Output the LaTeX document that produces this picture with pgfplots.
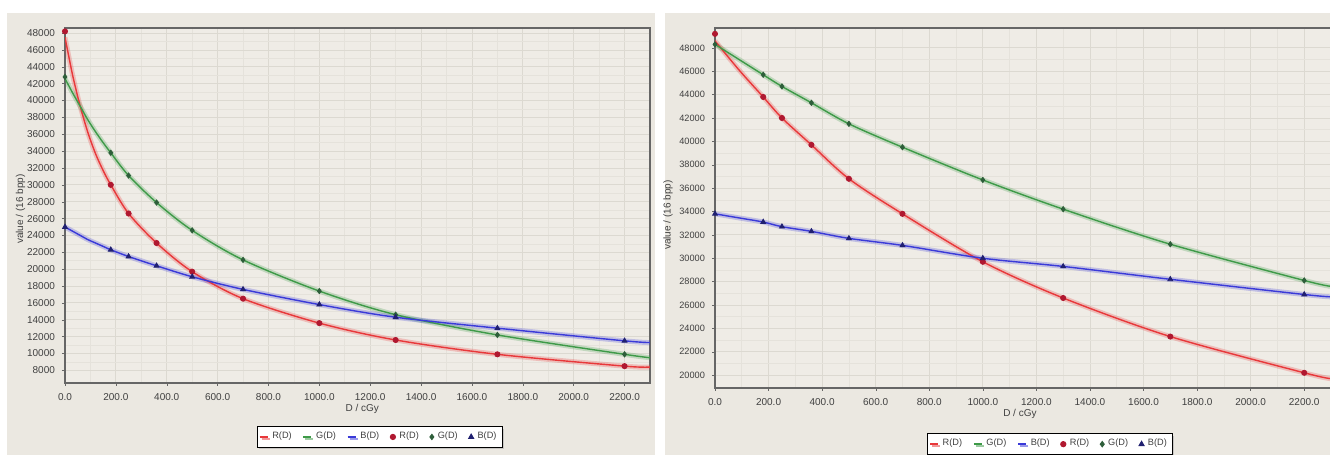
\documentclass[border=0pt]{standalone}
\usepackage{pgfplots}
\pgfplotsset{compat=1.18}
\usepackage{pgfplotstable}
\usepackage{fontspec}
\setmainfont{Liberation Sans}
\usetikzlibrary{shadows}

\definecolor{bgpanel}{HTML}{EBE8E1}
\definecolor{bgplot}{HTML}{EFECE6}
\definecolor{gridmaj}{HTML}{DCD9D1}
\definecolor{gridmin}{HTML}{E5E2DB}
\definecolor{cR}{HTML}{E8383A}
\definecolor{cG}{HTML}{3E9A48}
\definecolor{cB}{HTML}{3A3AD8}
\definecolor{mR}{HTML}{B01830}
\definecolor{mG}{HTML}{2E5E3A}
\definecolor{mB}{HTML}{202070}
\definecolor{txt}{HTML}{404040}

% measured points
\pgfplotstableread{
x    R     G     B
0    48200 42800 25000
180  30000 33800 22300
250  26600 31100 21500
360  23100 27900 20400
500  19700 24600 19100
700  16500 21100 17600
1000 13600 17400 15800
1300 11600 14600 14300
1700 9900  12200 13000
2200 8500  9900  11500
}\leftpts
% fitted curves
\pgfplotstableread{
x    R     G     B
0    47500 42600 25000
30   43000 40900 24500
60   39300 39300 24000
90   36200 37700 23500
120  33700 36300 23100
150  31700 35000 22700
180  30000 33800 22300
250  26600 31100 21500
360  23100 27900 20400
500  19700 24600 19100
700  16500 21100 17600
1000 13600 17400 15800
1300 11600 14600 14300
1700 9900  12200 13000
2200 8500  9900  11500
2300 8400  9500  11300
}\leftfit
\pgfplotstableread{
x    R     G     B
0    49200 48300 33800
180  43800 45700 33100
250  42000 44700 32700
360  39700 43300 32300
500  36800 41500 31700
700  33800 39500 31100
1000 29700 36700 30000
1300 26600 34200 29300
1700 23300 31200 28200
2200 20200 28100 26900
}\rightpts
\pgfplotstableread{
x    R     G     B
0    48600 48300 33800
90   46100 47000 33450
180  43800 45700 33100
250  42000 44700 32700
360  39700 43300 32300
500  36800 41500 31700
700  33800 39500 31100
1000 29700 36700 30000
1300 26600 34200 29300
1700 23300 31200 28200
2200 20200 28100 26900
2300 19700 27600 26700
}\rightfit

\pgfplotsset{
  panel/.style={
    scale only axis,
    axis background/.style={fill=bgplot},
    xmin=0, xmax=2300,
    xtick={0,200,...,2200},
    minor x tick num=1, minor y tick num=1,
    grid=both,
    major grid style={gridmaj, line width=0.4pt},
    minor grid style={gridmin, line width=0.3pt},
    axis line style={draw=gray!80!black, line width=0.6pt},
    tick align=outside, major tick length=1.5pt, minor tick length=0pt,
    tick style={draw=gray!80!black},
    /pgf/number format/assume math mode=true,
    tick label style={font=\fontsize{5}{6}\selectfont, text=txt},
    label style={font=\fontsize{5}{6}\selectfont, text=txt},
    xticklabel style={/pgf/number format/fixed, /pgf/number format/fixed zerofill,
      /pgf/number format/precision=1, /pgf/number format/1000 sep={}},
    yticklabel style={/pgf/number format/fixed, /pgf/number format/precision=0,
      /pgf/number format/1000 sep={}},
    scaled ticks=false,
    xtick pos=bottom, ytick pos=left,
    xlabel={D / cGy}, ylabel={value / (16 bpp)},
    legend columns=6,
    legend style={font=\fontsize{4.6}{5.5}\selectfont, text=txt, draw=black, fill=white,
      inner sep=0.8pt, anchor=center, line width=0.5pt,
      drop shadow={shadow xshift=1pt, shadow yshift=-1pt, fill=gray!70},
      /tikz/every even column/.append style={column sep=3.5pt}},
    legend image code/.code={\draw[mark repeat=2,mark phase=2,##1] plot coordinates {(0cm,0cm)(0.07cm,0cm)(0.14cm,0cm)};},
  },
  halo/.style={line width=2.5pt, opacity=0.25, smooth, forget plot},
}

\begin{document}
\begin{tikzpicture}
\useasboundingbox (0,0) rectangle (665pt,227.5pt);
\fill[white] (0,0) rectangle (665pt,227.5pt);
\fill[bgpanel] (3.5pt,0) rectangle (327.5pt,221pt);
\fill[bgpanel] (332.5pt,0) rectangle (665pt,221pt);

\begin{axis}[panel,
  at={(32.5pt,36pt)}, width=292.5pt, height=177.5pt,
  ymin=6500, ymax=48600, ytick={8000,10000,...,48000},
  xlabel style={at={(axis description cs:0.508,-0.040)}, anchor=north},
  ylabel style={at={(axis description cs:-0.056,0.49)}, anchor=south},
  legend style={at={(0.538,-0.152)}},
]
\addplot[cR, halo] table[x=x, y=R] {\leftfit};
\addplot[cG, halo] table[x=x, y=G] {\leftfit};
\addplot[cB, halo] table[x=x, y=B] {\leftfit};
\addplot[cR, line width=0.7pt, smooth] table[x=x, y=R] {\leftfit};
\addlegendentry{R(D)}
\addplot[cG, line width=0.7pt, smooth] table[x=x, y=G] {\leftfit};
\addlegendentry{G(D)}
\addplot[cB, line width=0.7pt, smooth] table[x=x, y=B] {\leftfit};
\addlegendentry{B(D)}
\addplot[only marks, mark=*, mark size=1.3pt, mR] table[x=x, y=R] {\leftpts};
\addlegendentry{R(D)}
\addplot[only marks, mark=diamond*, mark size=1.3pt, mG] table[x=x, y=G] {\leftpts};
\addlegendentry{G(D)}
\addplot[only marks, mark=triangle*, mark size=1.4pt, mB] table[x=x, y=B] {\leftpts};
\addlegendentry{B(D)}
\end{axis}

\begin{axis}[panel,
  at={(357.5pt,33.5pt)}, width=308pt, height=180pt,
  ymin=18900, ymax=49700, ytick={20000,22000,...,48000},
  yticklabel style={font=\fontsize{4.6}{5.5}\selectfont},
  xlabel style={at={(axis description cs:0.495,-0.039)}, anchor=north},
  ylabel style={at={(axis description cs:-0.057,0.48)}, anchor=south},
  legend style={at={(0.544,-0.156)}},
]
\addplot[cR, halo] table[x=x, y=R] {\rightfit};
\addplot[cG, halo] table[x=x, y=G] {\rightfit};
\addplot[cB, halo] table[x=x, y=B] {\rightfit};
\addplot[cR, line width=0.7pt, smooth] table[x=x, y=R] {\rightfit};
\addlegendentry{R(D)}
\addplot[cG, line width=0.7pt, smooth] table[x=x, y=G] {\rightfit};
\addlegendentry{G(D)}
\addplot[cB, line width=0.7pt, smooth] table[x=x, y=B] {\rightfit};
\addlegendentry{B(D)}
\addplot[only marks, mark=*, mark size=1.3pt, mR] table[x=x, y=R] {\rightpts};
\addlegendentry{R(D)}
\addplot[only marks, mark=diamond*, mark size=1.3pt, mG] table[x=x, y=G] {\rightpts};
\addlegendentry{G(D)}
\addplot[only marks, mark=triangle*, mark size=1.4pt, mB] table[x=x, y=B] {\rightpts};
\addlegendentry{B(D)}
\end{axis}
\end{tikzpicture}
\end{document}
